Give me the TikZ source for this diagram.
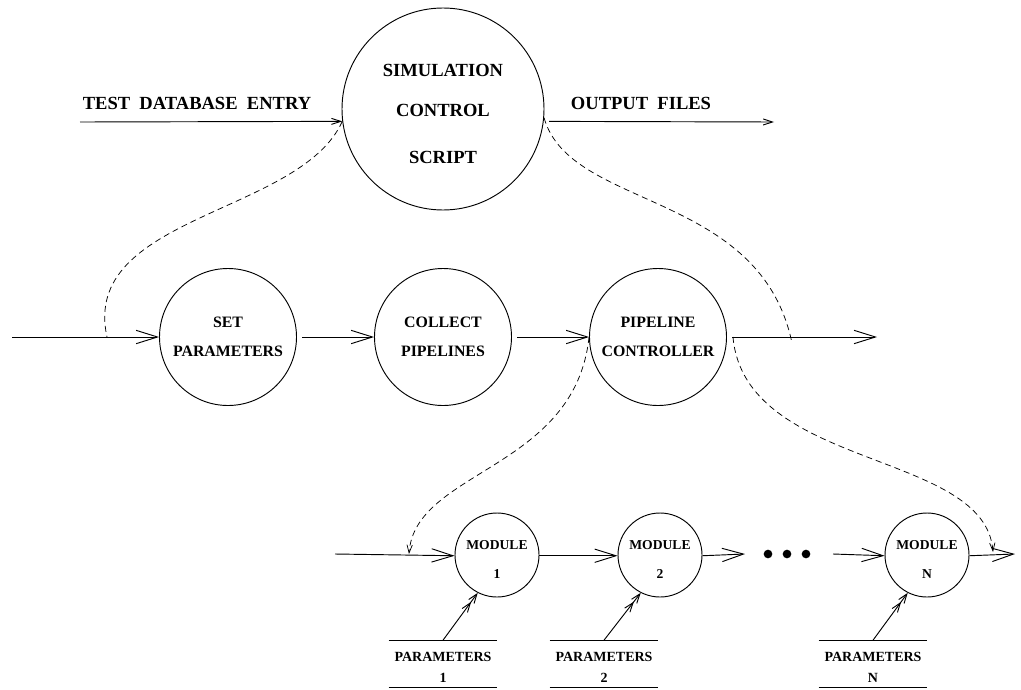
\documentclass[tikz,border=0pt]{standalone}
\usepackage{fontspec}
\setmainfont{Liberation Serif}
\usetikzlibrary{arrows.meta}

\begin{document}
\begin{tikzpicture}
  [x=0.75pt,y=-0.75pt,line width=0.7pt,
   every node/.style={inner sep=0pt,align=center,font=\bfseries},
   bigproc/.style={circle,draw,minimum size=151.5pt,font=\bfseries\fontsize{13.9}{16}\selectfont},
   proc/.style={circle,draw,minimum size=102.75pt,font=\bfseries\fontsize{11.9}{14}\selectfont},
   module/.style={circle,draw,minimum size=63pt,font=\bfseries\fontsize{10.2}{12}\selectfont},
   params/.style={minimum width=81pt,minimum height=35pt,font=\bfseries\fontsize{10.5}{12}\selectfont},
   lbl/.style={font=\bfseries\fontsize{13.9}{16}\selectfont},
   dot/.style={circle,fill,minimum size=6.5pt},
   flow/.style={-{Straight Barb[length=16pt,width=10pt]}},
   thinflow/.style={-{Straight Barb[length=7pt,width=4.5pt]}},
   feed/.style={-{Straight Barb[length=7pt,width=5pt]Straight Barb[length=7pt,width=5pt]}},
   ctl/.style={line width=0.55pt,dash pattern=on 4.5pt off 3pt},
   ctltip/.style={ctl,-{Straight Barb[length=6pt,width=4pt]}}]
  \useasboundingbox (0,0) rectangle (1021,689);

  % top level
  \node[bigproc] (sim) at (443,109) {\rule{0pt}{16pt}SIMULATION\\[14pt]CONTROL\\[19.25pt]SCRIPT};
  \node[lbl] (lbltest) at (197,103) {TEST\ \ DATABASE\ \ ENTRY};
  \node[lbl] (lblout) at (641,103) {OUTPUT\ \ FILES};
  \coordinate (tdb) at (80,122);
  \coordinate (outf) at (774,122);
  \draw[thinflow] (tdb) -- (sim.187);
  \draw[thinflow,shorten <=4pt] (sim.-7) -- (outf);

  % pipeline level
  \node[proc] (setp) at (228,337) {SET\\[7.75pt]PARAMETERS};
  \node[proc] (coll) at (443,337) {COLLECT\\[7.75pt]PIPELINES};
  \node[proc] (ctrl) at (658,337) {PIPELINE\\[7.75pt]CONTROLLER};
  \coordinate (pin) at (7,337);
  \coordinate (pout) at (877,337);
  \coordinate (tapin) at (107,337);
  \coordinate (tapout) at (792,343);
  \foreach \from/\to in {pin/setp.west,setp.east/coll.west,coll.east/ctrl.west,ctrl.east/pout}
    \draw[flow,shorten <=4pt] (\from) -- (\to);
  \draw[ctl] (sim.187) .. controls (300,215) and (80,215) .. (tapin);
  \draw[ctl] (sim.-5) .. controls (570,210) and (760,190) .. (tapout);

  % module level
  \node[module] (m1) at (497,555) {\rule{0pt}{13pt}MODULE\\[9.75pt]1};
  \node[module] (m2) at (660,555) {\rule{0pt}{13pt}MODULE\\[9.75pt]2};
  \node[module] (mn) at (927,555) {\rule{0pt}{13pt}MODULE\\[9.75pt]N};
  \node[dot] (d1) at (768,554) {};
  \node[dot] (d2) at (787,554) {};
  \node[dot] (d3) at (806,554) {};
  \coordinate (min) at (335,554);
  \coordinate (m2out) at (745,554);
  \coordinate (mnin) at (833,554);
  \coordinate (mout) at (1015,554);
  \coordinate (tapm1) at (409,554);
  \coordinate (tapmn) at (993,552);
  \foreach \from/\to in {min/m1.181,m1.-1/m2.181,m2.-1/m2out,mnin/mn.181,mn.-1/mout}
    \draw[flow] (\from) -- (\to);
  \draw[ctltip] (ctrl.west) .. controls (575,470) and (415,470) .. (tapm1);
  \draw[ctltip] ([xshift=4.5pt]ctrl.east) .. controls (745,470) and (985,450) .. (tapmn);

  % parameter stores
  \node[params] (p1) at (443,664) {\rule{0pt}{11.7pt}PARAMETERS\\[3.75pt]1};
  \node[params] (p2) at (604,664) {\rule{0pt}{11.7pt}PARAMETERS\\[3.75pt]2};
  \node[params] (pn) at (873,664) {\rule{0pt}{11.7pt}PARAMETERS\\[3.75pt]N};
  \foreach \p in {p1,p2,pn}
    \draw (\p.north west) -- (\p.north east) (\p.south west) -- (\p.south east);
  \foreach \p/\m in {p1/m1,p2/m2,pn/mn}
    \draw[feed] (\p.north) -- (\m.-117);
\end{tikzpicture}
\end{document}
